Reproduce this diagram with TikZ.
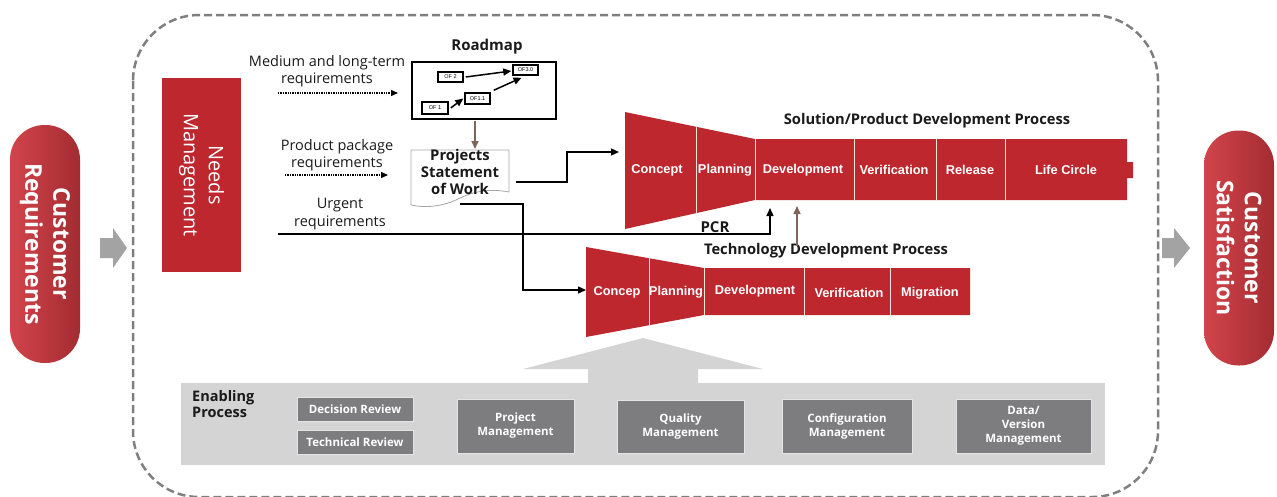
\documentclass[tikz,border=0pt]{standalone}
\usepackage{fontspec}
\setmainfont{Open Sans}
\newfontfamily\arialfont{Liberation Sans}
\usetikzlibrary{arrows.meta}
\newcommand\myfs[2]{\fontsize{#1}{#2}\selectfont}
\definecolor{hwred}{HTML}{BE272E}
\definecolor{pilllight}{HTML}{D2444B}
\definecolor{pilldark}{HTML}{A32C31}
\definecolor{dashgray}{HTML}{7F7F7F}
\definecolor{arrowgray}{HTML}{A3A3A3}
\definecolor{enablegray}{HTML}{D4D4D4}
\definecolor{boxgray}{HTML}{7D7D80}
\definecolor{brownline}{HTML}{7D655A}
\definecolor{divline}{HTML}{F2E6DC}
\definecolor{textdark}{HTML}{1A1A1A}
\begin{document}
\begin{tikzpicture}[x=1pt,y=-1pt,
  pill/.style={left color=pilllight, right color=pilldark, rounded corners=34.5pt, minimum width=70pt, inner sep=0pt},
  pilltext/.style={rotate=-90, text=white, font=\bfseries\myfs{23}{28}, align=center},
  blockarrow/.style={fill=arrowgray},
  needsbox/.style={fill=hwred, minimum width=79pt, minimum height=194pt, inner sep=0pt},
  needstext/.style={rotate=-90, text=white, font=\myfs{20}{25}, align=center},
  txt/.style={font=\myfs{14.5}{17.5}, align=center, text=textdark, inner sep=0pt},
  boldtxt/.style={font=\bfseries\myfs{15}{17}, align=center, text=textdark, inner sep=0pt},
  heading/.style={font=\bfseries\myfs{14.7}{17}, text=textdark, inner sep=0pt},
  dotarrow/.style={line width=1.3pt, dash pattern=on 1.3pt off 1.1pt, -{Triangle[length=7pt,width=6pt]}},
  conn/.style={line width=1.3pt, -{Triangle[length=8pt,width=7pt]}},
  brownarrow/.style={brownline, line width=1.6pt, -{Triangle[length=8pt,width=7pt]}},
  funnel/.style={fill=hwred},
  divider/.style={divline, line width=1pt},
  seglabel/.style={text=white, font=\arialfont\bfseries\myfs{12.8}{15}, inner sep=0pt},
  ofbox/.style={draw=black, line width=1.5pt, fill=white, inner sep=0pt, font=\arialfont\myfs{5.5}{6}},
  ofarrow/.style={line width=1.5pt, -{Triangle[length=8pt,width=7pt]}},
  graybox/.style={fill=boxgray, draw=white!80!gray, line width=0.6pt, text=white, font=\bfseries\myfs{11.5}{14}, align=center, inner sep=0pt},
]
\useasboundingbox (0,0) rectangle (1277,496);

% dashed frame
\draw[dashgray, line width=2.5pt, dash pattern=on 8pt off 4pt, rounded corners=66pt] (133,15) rectangle (1158,497);

% customer pills
\node[pill, minimum height=238pt] (custreq) at (45,244) {};
\node[pilltext] (custreqlbl) at (custreq.center) {Customer\\Requirements};
\node[pill, minimum height=235pt] (custsat) at (1239,248) {};
\node[pilltext] (custsatlbl) at (custsat.center) {Customer\\Satisfaction};

% gray block arrows
\fill[blockarrow] (100,238) -- (113,238) -- (113,228) -- (127,248) -- (113,268) -- (113,258) -- (100,258) -- cycle;
\fill[blockarrow] (1162,238) -- (1174,238) -- (1174,228) -- (1190,248) -- (1174,268) -- (1174,258) -- (1162,258) -- cycle;

% needs management
\node[needsbox] (needs) at (201.5,175) {};
\node[needstext] (needslbl) at (needs.center) {Needs\\Management};

% roadmap
\node[boldtxt] (roadmaptitle) at (487,47) {Roadmap};
\node[draw=black, line width=2.5pt, minimum width=144pt, minimum height=57pt, inner sep=0pt] (roadmap) at (484,90.5) {};
\node[ofbox, minimum width=25pt, minimum height=10pt] (of2) at (450.5,77) {OF 2};
\node[ofbox, minimum width=25pt, minimum height=10pt] (of30) at (525.5,70) {OF3.0};
\node[ofbox, minimum width=25pt, minimum height=11pt] (of11) at (477.5,98.5) {OF1.1};
\node[ofbox, minimum width=26pt, minimum height=12pt] (of1) at (435,108) {OF 1};
\draw[ofarrow] ([xshift=2pt]of2.east) -- ([xshift=-1pt,yshift=-1pt]of30.west);
\draw[ofarrow] ([xshift=2pt]of1.east) -- ([xshift=-1pt]of11.west);
\draw[ofarrow] ([xshift=3pt,yshift=2pt]of11.north east) -- ([xshift=-4pt,yshift=-2pt]of30.south);

% input texts
\node[txt] (mlt) at (327,71) {Medium and long-term\\requirements};
\coordinate (mltstart) at (278,93);
\coordinate (mltend) at (398,93);
\draw[dotarrow] (mltstart) -- (mltend);

\node[txt] (ppr) at (337,155) {Product package\\requirements};
\coordinate (pprstart) at (285,175);
\coordinate (pprend) at (388,175);
\draw[dotarrow] (pprstart) -- (pprend);

\node[txt] (urg) at (340,214) {Urgent\\requirements};

% statement of work document
\path[draw=gray!70, line width=0.8pt, fill=white] (411,150) -- (509,150) -- (509,192)
  .. controls (488,188) and (472,192) .. (458,199)
  .. controls (442,207) and (424,208) .. (411,205) -- cycle;
\node[font=\bfseries\myfs{14.8}{16.8}, text=textdark, align=center, inner sep=0pt] (sow) at (460,172) {Projects\\Statement\\of Work};

\coordinate (rmout) at (475,121);
\coordinate (sowin) at (475,149);
\draw[brownarrow] (rmout) -- (sowin);

% solution / product development funnel
\fill[funnel] (625,112) -- (755,139) -- (1127,139) -- (1127,162) -- (1133,162) -- (1133,178) -- (1127,178) -- (1127,200) -- (755,200) -- (625,229) -- cycle;
\draw[divider] (696,126.7) -- (696,213.2);
\draw[divider] (755,139) -- (755,200);
\draw[divider] (854,139) -- (854,200);
\draw[divider] (936,139) -- (936,200);
\draw[divider] (1005,139) -- (1005,200);
\node[heading] (solhead) at (927,121) {Solution/Product Development Process};
\node[seglabel] (sconcept) at (657,170) {Concept};
\node[seglabel] (splanning) at (725,170) {Planning};
\node[seglabel] (sdev) at (803,170) {Development};
\node[seglabel] (sverif) at (894,170) {Verification};
\node[seglabel] (srelease) at (970,170) {Release};
\node[seglabel] (slife) at (1066,170) {Life Circle};

% technology development funnel
\fill[funnel] (586,247) -- (704,268) -- (970,268) -- (970,315) -- (704,315) -- (586,337) -- cycle;
\draw[divider] (649,258.2) -- (649,325.3);
\draw[divider] (704,268) -- (704,315);
\draw[divider] (804,268) -- (804,315);
\draw[divider] (890,268) -- (890,315);
\node[heading] (techhead) at (826,251) {Technology Development Process};
\node[seglabel] (tconcep) at (617,292) {Concep};
\node[seglabel] (tplanning) at (676,292) {Planning};
\node[seglabel] (tdev) at (755,291) {Development};
\node[seglabel] (tverif) at (849,293) {Verification};
\node[seglabel] (tmigr) at (930,293) {Migration};

% connectors
\coordinate (sowout) at (516,182);
\coordinate (conceptin) at (619,152);
\draw[conn] (sowout) -- ++(51,0) |- (conceptin);

\coordinate (sowbot) at (460,204);
\coordinate (concepin) at (586,290);
\draw[conn] (sowbot) -- ++(63,0) |- (concepin);

\coordinate (urgstart) at (278,234);
\coordinate (pcrin) at (770,208);
\draw[conn] (urgstart) -| (pcrin);
\node[boldtxt] (pcr) at (715,227) {PCR};

\coordinate (techup) at (797,246);
\coordinate (devin) at (797,206);
\draw[brownarrow] (techup) -- (devin);

% enabling process
\fill[enablegray] (588,383) -- (588,369) -- (523,369) -- (643,338) -- (763,369) -- (698,369) -- (698,383) -- cycle;
\node[fill=enablegray, minimum width=924pt, minimum height=82pt, inner sep=0pt] (enablebox) at (643,424) {};
\node[font=\bfseries\myfs{14.5}{16}, text=textdark, align=left, anchor=north west, inner sep=0pt] (enabling) at (192,390) {Enabling\\Process};
\node[graybox, minimum width=116pt, minimum height=24pt] (decision) at (355,409) {Decision Review};
\node[graybox, minimum width=116pt, minimum height=24pt] (technical) at (355,442) {Technical Review};
\node[graybox, minimum width=117pt, minimum height=54pt] (project) at (515.5,426) {Project\\Management};
\node[graybox, minimum width=127pt, minimum height=53pt] (quality) at (680.5,426.5) {Quality\\Management};
\node[graybox, minimum width=130pt, minimum height=54pt] (config) at (847,426) {Configuration\\Management};
\node[graybox, minimum width=135pt, minimum height=54pt] (dataver) at (1023.5,426) {Data/\\Version\\Management};
\end{tikzpicture}
\end{document}
